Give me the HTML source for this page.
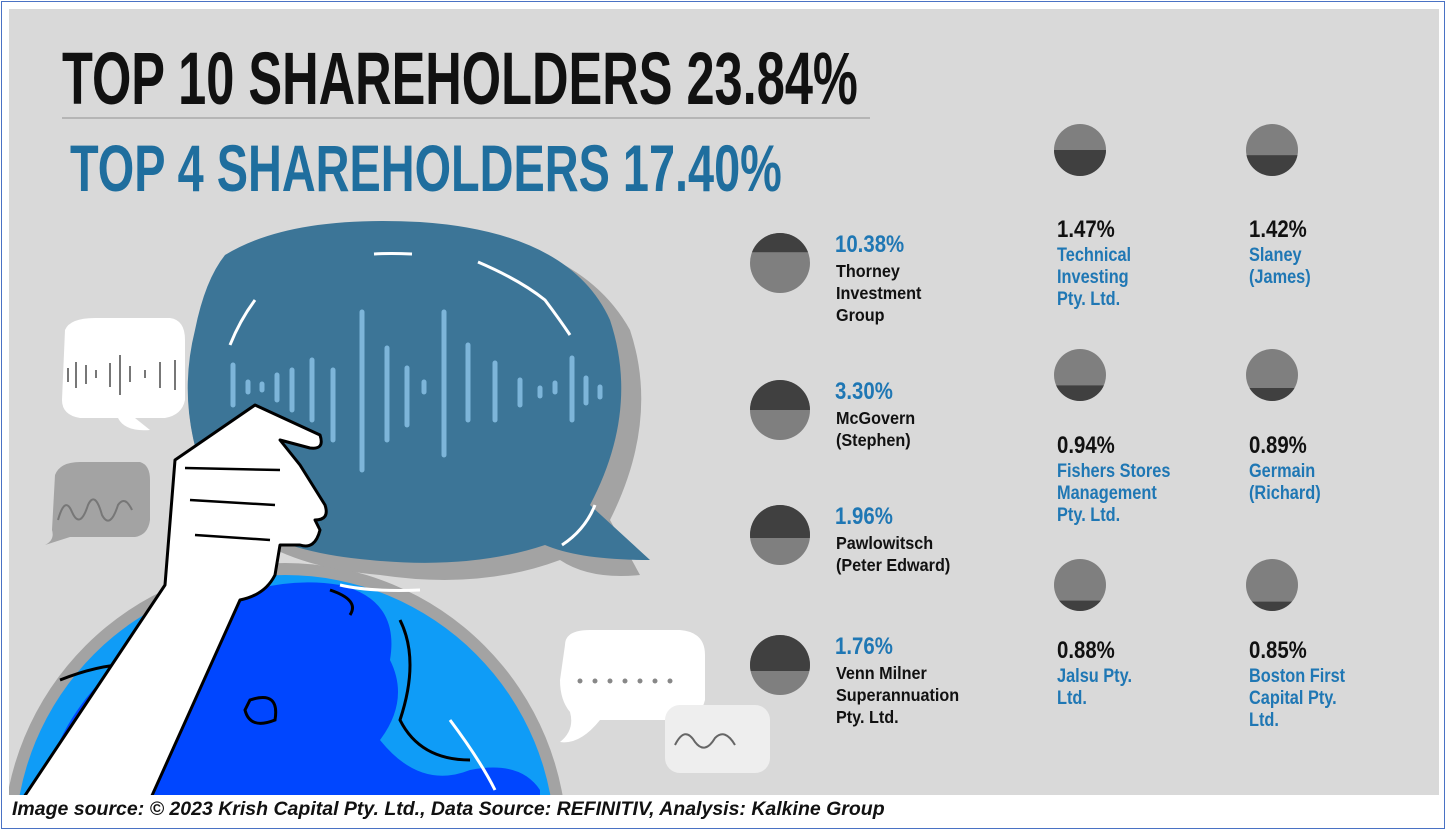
<!DOCTYPE html>
<html><head><meta charset="utf-8">
<style>
html,body{margin:0;padding:0;background:#fff;overflow:hidden;width:1448px;height:832px}
#root{position:relative;width:1448px;height:832px;overflow:hidden;background:#fff;font-family:"Liberation Sans",sans-serif}
#frame{position:absolute;left:1px;top:1px;width:1444px;height:828px;border:1px solid #4a72c4;box-sizing:border-box}
#panel{position:absolute;left:9px;top:9px;width:1430px;height:786px;background:#d9d9d9;overflow:hidden}
.ttl{position:absolute;font-family:"Liberation Sans Narrow","Liberation Sans",sans-serif;font-weight:bold;white-space:nowrap;transform-origin:0 0;line-height:1}
#footer{position:absolute;left:12px;top:797px;height:24px;font-style:italic;font-weight:bold;font-size:19.5px;color:#111;white-space:nowrap;line-height:24px;overflow:hidden}
</style></head>
<body>
<div id="root">
<div id="frame"></div>
<div id="panel"></div>
<svg id="art" width="1448" height="832" style="position:absolute;left:0;top:0">
 <defs><clipPath id="pc"><rect x="9" y="9" width="1430" height="786"/></clipPath></defs>
 <g clip-path="url(#pc)">
  <circle cx="285" cy="845" r="282" fill="#a3a3a3"/>
  <circle cx="285" cy="845" r="270" fill="#0f9cf7"/>
  <path d="M150,640 Q250,570 340,585 Q400,600 390,660 Q410,700 380,740 Q420,790 470,770 Q520,760 540,790 L540,800 L40,800 Q60,700 150,640Z" fill="#0046ff"/>
  <path d="M330,590 Q360,600 350,615 M400,620 Q420,660 400,720 Q420,760 470,760 M250,700 Q280,690 275,720 Q250,730 245,710Z M60,680 Q110,660 150,665" fill="none" stroke="#000" stroke-width="3"/>
  <path d="M450,720 Q480,760 495,790" stroke="#fff" stroke-width="3" fill="none"/>
  <path d="M235,265 Q300,220 430,230 Q580,240 630,330 Q660,420 610,520 L640,575 Q590,580 560,560 Q480,590 380,575 Q260,565 215,500 Q175,420 195,340 Q205,290 235,265Z" fill="#a3a3a3"/>
  <path d="M225,255 Q290,215 420,222 Q570,232 610,320 Q640,410 590,505 L650,560 Q580,560 545,545 Q470,570 370,560 Q250,550 210,490 Q175,410 195,330 Q205,280 225,255Z" fill="#3c7597"/>
  <g stroke="#7db5d9" stroke-width="5" stroke-linecap="round">
   <line x1="233" y1="365" x2="233" y2="405"/><line x1="248" y1="382" x2="248" y2="392"/><line x1="262" y1="384" x2="262" y2="390"/><line x1="277" y1="375" x2="277" y2="400"/><line x1="292" y1="370" x2="292" y2="410"/><line x1="312" y1="360" x2="312" y2="420"/><line x1="333" y1="370" x2="333" y2="440"/><line x1="362" y1="312" x2="362" y2="470"/><line x1="387" y1="348" x2="387" y2="440"/><line x1="407" y1="368" x2="407" y2="425"/><line x1="424" y1="382" x2="424" y2="392"/><line x1="444" y1="312" x2="444" y2="455"/><line x1="468" y1="345" x2="468" y2="420"/><line x1="495" y1="363" x2="495" y2="420"/><line x1="520" y1="380" x2="520" y2="405"/><line x1="540" y1="388" x2="540" y2="396"/><line x1="555" y1="383" x2="555" y2="392"/><line x1="572" y1="358" x2="572" y2="420"/><line x1="586" y1="378" x2="586" y2="403"/><line x1="600" y1="387" x2="600" y2="397"/>
  </g>
  <path d="M374,254 Q390,253 412,254 M478,262 Q520,280 545,300 Q560,320 570,335 M255,300 Q240,320 230,345 M595,505 Q585,530 562,545 M340,585 Q370,592 420,590" stroke="#fff" stroke-width="3" fill="none"/>
  <path d="M65,330 Q70,318 95,318 L170,318 Q185,320 185,340 L185,400 Q182,415 165,418 L135,418 L150,430 Q125,432 118,418 L80,418 Q62,415 62,400Z" fill="#fff"/>
  <g stroke="#777" stroke-width="2"><line x1="68" y1="368" x2="68" y2="382"/><line x1="76" y1="362" x2="76" y2="388"/><line x1="86" y1="365" x2="86" y2="384"/><line x1="96" y1="370" x2="96" y2="378"/><line x1="110" y1="363" x2="110" y2="387"/><line x1="120" y1="355" x2="120" y2="395"/><line x1="130" y1="366" x2="130" y2="382"/><line x1="145" y1="370" x2="145" y2="378"/><line x1="160" y1="362" x2="160" y2="388"/><line x1="175" y1="360" x2="175" y2="390"/></g>
  <path d="M55,475 Q60,462 80,462 L140,462 Q150,465 150,480 L150,520 Q148,535 135,537 L70,537 L45,545 Q55,540 52,530Z" fill="#a3a3a3"/>
  <path d="M58,520 Q65,495 72,512 Q80,530 88,505 Q95,490 102,515 Q110,530 118,505 Q125,495 132,510" stroke="#777" stroke-width="2" fill="none"/>
  <path d="M565,645 Q565,630 590,630 L680,630 Q705,632 705,655 L705,700 Q700,720 680,720 L600,720 Q580,745 560,742 Q575,730 570,712 Q560,700 560,680Z" fill="#fff"/>
  <g fill="#888">
   <circle cx="580" cy="681" r="2.5"/><circle cx="595" cy="681" r="2.5"/><circle cx="610" cy="681" r="2.5"/><circle cx="625" cy="681" r="2.5"/><circle cx="640" cy="681" r="2.5"/><circle cx="655" cy="681" r="2.5"/><circle cx="670" cy="681" r="2.5"/>
  </g>
  <rect x="665" y="705" width="105" height="68" rx="15" fill="#eeeeee"/>
  <path d="M675,745 Q685,725 695,742 Q705,755 715,738 Q725,728 735,745" stroke="#666" stroke-width="2" fill="none"/>
  <path d="M22,800 L165,585 L175,460 L255,405 L320,435 Q325,450 310,448 L280,440 L300,465 L325,505 Q330,520 315,520 L320,530 Q315,550 300,545 L280,545 L275,575 Q265,595 240,600 L150,800Z" fill="#fff" stroke="#000" stroke-width="3" stroke-linejoin="round"/>
  <path d="M185,468 L280,470 M190,500 L275,505 M195,535 L270,540" stroke="#000" stroke-width="2.5" fill="none"/>
 </g>
</svg>

<div class="ttl" style="left:62px;top:42px;font-size:74px;color:#111;transform:scaleX(0.683)">TOP 10 SHAREHOLDERS 23.84%</div>
<div style="position:absolute;left:62px;top:117px;width:808px;height:2px;background:#b5b5b5"></div>
<div class="ttl" style="left:70px;top:135px;font-size:66px;color:#1f6e9e;transform:scaleX(0.71)">TOP 4 SHAREHOLDERS 17.40%</div>

<svg id="chart" width="1448" height="832" style="position:absolute;left:0;top:0"></svg>

<div id="footer">Image source: © 2023 Krish Capital Pty. Ltd., Data Source: REFINITIV, Analysis: Kalkine Group</div>
</div>
<script>
const leftNames = [["Thorney","Investment","Group"],["McGovern","(Stephen)"],["Pawlowitsch","(Peter Edward)"],["Venn Milner","Superannuation","Pty. Ltd."]];
const leftValues = [10.38, 3.30, 1.96, 1.76];
const leftDarkShare = [0.32, 0.5, 0.55, 0.6];
const rightNames = [["Technical","Investing","Pty. Ltd."],["Slaney","(James)"],["Fishers Stores","Management","Pty. Ltd."],["Germain","(Richard)"],["Jalsu Pty.","Ltd."],["Boston First","Capital Pty.","Ltd."]];
const rightValues = [1.47, 1.42, 0.94, 0.89, 0.88, 0.85];
const rightDarkShare = [0.5, 0.4, 0.3, 0.25, 0.2, 0.18];

const NS = "http://www.w3.org/2000/svg";
const svg = document.getElementById('chart');
const FONT = '"Liberation Sans Narrow","Liberation Sans",sans-serif';
function pie(cx, cy, r, share, darkTop, idx){
  const g=document.createElementNS(NS,'g');svg.appendChild(g);
  
  
  const cid='c'+idx;
  const cp=document.createElementNS(NS,'clipPath');cp.setAttribute('id',cid);
  const cc=document.createElementNS(NS,'circle');cc.setAttribute('cx',cx);cc.setAttribute('cy',cy);cc.setAttribute('r',r);cp.appendChild(cc);g.appendChild(cp);
  const base=document.createElementNS(NS,'circle');base.setAttribute('cx',cx);base.setAttribute('cy',cy);base.setAttribute('r',r);base.setAttribute('fill','#7f7f7f');g.appendChild(base);
  const h=2*r*share;
  const rc=document.createElementNS(NS,'rect');
  rc.setAttribute('x',cx-r);rc.setAttribute('width',2*r);rc.setAttribute('height',h);
  rc.setAttribute('y',darkTop?cy-r:cy+r-h);
  rc.setAttribute('fill','#404040');rc.setAttribute('clip-path','url(#'+cid+')');g.appendChild(rc);
}
function txt(x,y,s,size,color,name,sx){
  const t=document.createElementNS(NS,'text');
  t.setAttribute('x',x/sx);t.setAttribute('y',y);
  t.setAttribute('transform','scale('+sx+',1)');
  t.setAttribute('font-family',FONT);t.setAttribute('font-weight','bold');
  t.setAttribute('font-size',size);t.setAttribute('fill',color);
  
  
  t.textContent=s;svg.appendChild(t);return t;
}
const leftY=[263,410,535,665];
leftValues.forEach((v,i)=>{
  const cy=leftY[i];
  pie(780,cy,30,leftDarkShare[i],true,'L'+i);
  txt(835,cy-11,v.toFixed(2)+'%',24,'#1f77b4','left-value',0.85);
  leftNames[i].forEach((n,j)=>txt(836,cy+14+j*22,n,18,'#111','left-name',0.9));
});
const colX=[1080,1272], rowCirc=[150,375,585], rowTxt=[237,453,658];
rightValues.forEach((v,i)=>{
  const c=i%2, r=Math.floor(i/2);
  pie(colX[c],rowCirc[r],26,rightDarkShare[i],false,'R'+i);
  const tx=colX[c]-23;
  txt(tx,rowTxt[r],v.toFixed(2)+'%',24,'#111','right-value',0.85);
  rightNames[i].forEach((n,j)=>txt(tx,rowTxt[r]+24+j*22,n,19,'#1f77b4','right-name',0.86));
});
</script>
</body></html>
